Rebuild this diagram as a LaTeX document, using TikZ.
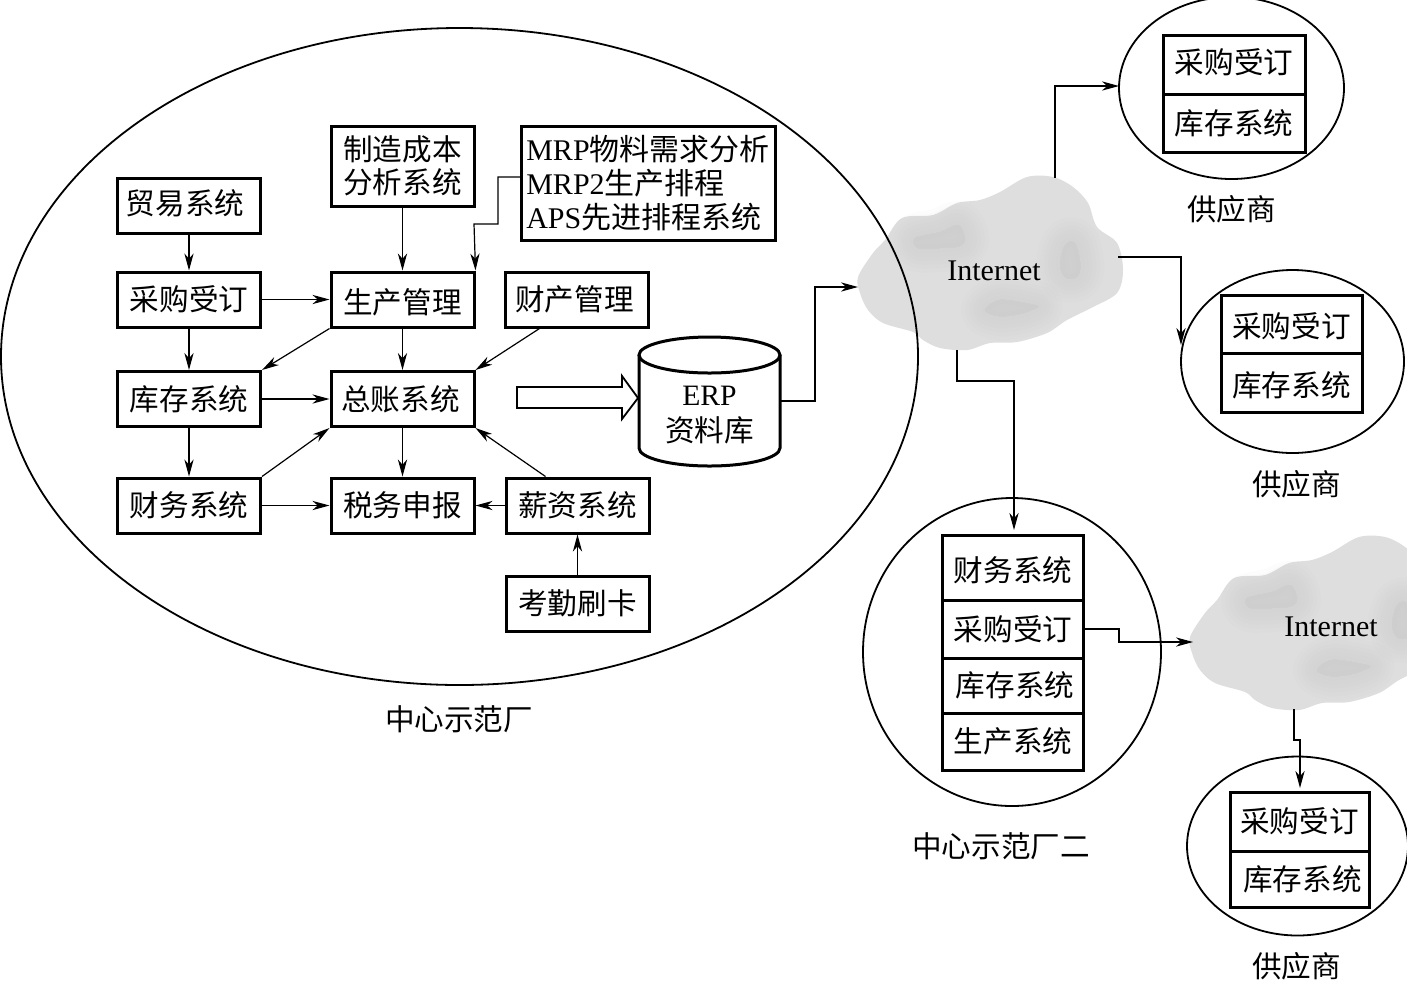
\documentclass[tikz,border=0pt]{standalone}
\usepackage{fontspec}
\setmainfont{Liberation Serif}
\newfontfamily\zhfont{Noto Sans CJK SC}
\usetikzlibrary{arrows.meta,shapes.geometric}
\newcommand{\zh}[1]{{\zhfont #1}}
% struts that nudge a label down or up inside its centred box
\newcommand{\nudgedown}{\rule{0pt}{15pt}}
\newcommand{\nudgeup}{\rule[-3.8pt]{0pt}{3.8pt}}
% a shaded patch with soft edges, built from widening translucent strokes
\newcommand{\softpatch}[1]{%
  \foreach \wd in {24pt,20pt,16pt,12pt,8pt,4pt}{%
    \path[cloudshade,line width=\wd,line join=round]
      plot[smooth cycle,tension=0.6] coordinates {#1};
  }%
}
\newcommand{\cloudbody}{%
  \fill[cloudbase] plot[smooth cycle,tension=0.55] coordinates {
    (858,277) (873,253) (885,240) (902,218) (933,215) (957,203) (980,200) (1000,192)
    (1027,177) (1053,177) (1073,187) (1088,203) (1097,227) (1117,243) (1123,270)
    (1117,293) (1093,307) (1067,320) (1047,333) (1017,342) (990,343) (967,350)
    (940,348) (923,340) (913,332) (883,323) (868,310) (860,293)};
  \softpatch{(915,238) (940,232) (958,225) (965,238) (960,246) (940,248) (918,248)}
  \softpatch{(1065,245) (1075,243) (1080,262) (1078,276) (1066,278) (1060,265)}
  \softpatch{(1000,300) (1030,304) (1038,307) (1020,314) (998,316) (985,310)}
}
\tikzset{
  every node/.style={font=\fontsize{14.8pt}{17pt}\selectfont},
  sysbox/.style={draw,line width=1.5pt,inner sep=0pt,align=center,
    minimum width=71.5pt,minimum height=27.5pt},
  cellbox/.style={sysbox,minimum width=70.5pt},
  ring/.style={draw,line width=.9pt,ellipse,inner sep=0pt},
  link/.style={line width=.6pt,-{Stealth[length=8.5pt,width=4.6pt,inset=2.6pt]}},
  cloudbase/.style={fill=black!13},
  cloudshade/.style={draw=black!30,fill=black!30,opacity=.028},
  cloudtext/.style={font=\fontsize{15pt}{17pt}\selectfont},
  caption/.style={inner sep=0pt}
}
\begin{document}
\begin{tikzpicture}[x=0.5pt,y=-0.5pt]
\useasboundingbox (0,0) rectangle (1407,981);
\fill[white] (0,0) rectangle (1407,981);

% the two clouds lie beneath the rings
\begin{scope}
  \clip (0,0) rectangle (1407,981);
  \cloudbody
  \begin{scope}[shift={(332,360)}]
    \cloudbody
  \end{scope}
\end{scope}
\node[cloudtext] (net1) at (994,271) {Internet};
\node[cloudtext] (net2) at (1331,627) {Internet};

% central plant
\node[ring,minimum width=458.5pt,minimum height=328.5pt] (plant) at (459.5,356.5) {};
\node[caption] (plantcap) at (459,719) {\zh{中心示范厂}};

\node[sysbox] (trade) at (189,205.5) {\nudgeup\zh{贸易系统}\hspace{4pt}};
\node[sysbox] (order) at (189,299.5) {\zh{采购受订}};
\node[sysbox] (stock) at (189,399) {\zh{库存系统}};
\node[sysbox] (fin)   at (189,505.5) {\zh{财务系统}};
\node[sysbox] (prod)  at (402.5,299.5) {\nudgedown\zh{生产管理}};
\node[sysbox] (gl)    at (402.5,399) {\zh{总账系统}\hspace{2pt}};
\node[sysbox] (tax)   at (402.5,505.5) {\zh{税务申报}};
\node[sysbox,minimum height=40pt] (cost) at (402.5,166) {\zh{制造成本}\\[-.6pt]\zh{分析系统}};
\node[sysbox,minimum width=127pt,minimum height=57pt,align=left,
      font=\fontsize{15pt}{17pt}\selectfont] (mrp) at (648,183)
  {MRP\zh{物料需求分析}\\MRP2\zh{生产排程}\\APS\zh{先进排程系统}\hspace{5pt}};
\node[sysbox] (asset) at (576.5,299.5) {\zh{财产管理}\hspace{2pt}};
\node[sysbox] (pay)   at (577.5,505.5) {\zh{薪资系统}};
\node[sysbox] (card)  at (577.5,603.5) {\zh{考勤刷卡}};

% database drum and the block arrow feeding it
\draw[line width=1.5pt,fill=white] (639,355) -- (639,448)
  arc[start angle=180,end angle=0,x radius=70.5,y radius=18] -- (780,355);
\draw[line width=1.5pt] (709.5,355) ellipse [x radius=70.5,y radius=18];
\node[align=center] (erp) at (709.5,415) {ERP\\[1.4pt]\zh{资料库}};
\coordinate (erpout) at (780,401);
\draw[line width=.9pt,fill=white] (517,387) -- (622,387) -- (622,376) -- (638,398)
  -- (622,419) -- (622,408) -- (517,408) -- cycle;

% flows inside the central plant
\draw[link] (trade) -- (order);
\draw[link] (order) -- (stock);
\draw[link] (stock) -- (fin);
\draw[link] (order) -- (prod);
\draw[link] (stock) -- (gl);
\draw[link] (fin) -- (tax);
\draw[link] (cost) -- (prod);
\draw[link] (prod) -- (gl);
\draw[link] (gl) -- (tax);
\draw[link] (prod.south west) -- (stock.north east);
\draw[link] ([xshift=18pt]asset.south west) -- (gl.north east);
\draw[link] (fin.north east) -- (gl.south west);
\draw[link] ([xshift=20.5pt]pay.north west) -- (gl.south east);
\draw[link] (pay) -- (tax);
\draw[link] (card) -- (pay);
\coordinate (mrpout) at (521,177);
\coordinate (mrpbendA) at (498,177);
\coordinate (mrpbendB) at (498,224);
\coordinate (mrpbendC) at (474,224);
\draw[link] (mrpout) -- (mrpbendA) -- (mrpbendB) -- (mrpbendC) -- (prod.north east);

% supplier one
\node[ring,minimum width=112.5pt,minimum height=91pt] (supA) at (1231.5,88) {};
\node[cellbox,minimum width=71pt,minimum height=29.5pt] (supAo) at (1234,64.5) {\nudgeup\zh{采购受订}};
\node[cellbox,minimum width=71pt,minimum height=29pt] (supAs) at (1234,123) {\zh{库存系统}};
\node[caption] (supAcap) at (1231.5,209) {\zh{供应商}};

% supplier two
\node[ring,minimum width=111.5pt,minimum height=91.5pt] (supB) at (1292.5,361.5) {};
\node[cellbox,minimum height=29pt] (supBo) at (1291.5,324) {\nudgedown\zh{采购受订}};
\node[cellbox,minimum height=29.5pt] (supBs) at (1291.5,382.5) {\nudgedown\zh{库存系统}};
\node[caption] (supBcap) at (1296.5,484) {\zh{供应商}};

% second central plant
\node[ring,minimum width=149pt,minimum height=154pt] (plantB) at (1012,652) {};
\node[cellbox,minimum height=32.5pt] (pbFin) at (1013,567.5) {\nudgedown\zh{财务系统}};
\node[cellbox,minimum height=29pt] (pbOrd) at (1013,629) {\zh{采购受订}};
\node[cellbox,minimum height=27.5pt] (pbSto) at (1013,685.5) {\hspace{2pt}\zh{库存系统}};
\node[cellbox,minimum height=28.5pt] (pbPro) at (1013,741.5) {\zh{生产系统}};
\node[caption] (plantBcap) at (1001,846) {\zh{中心示范厂二}};

% supplier three
\node[ring,minimum width=110.5pt,minimum height=89.5pt] (supC) at (1297.5,846) {};
\node[cellbox,minimum width=69.5pt,minimum height=29.5pt] (supCo) at (1299.5,821.5) {\zh{采购受订}};
\node[cellbox,minimum width=69.5pt,minimum height=28pt] (supCs) at (1299.5,879) {\hspace{3pt}\zh{库存系统}};
\node[caption] (supCcap) at (1296.5,966) {\zh{供应商}};

% links over the network
\coordinate (n1in) at (858,287);
\coordinate (n1top) at (1055,178);
\coordinate (n1right) at (1118,257);
\coordinate (n1bottom) at (957,350);
\coordinate (supAin) at (1119,86);
\coordinate (supBin) at (1181,345);
\coordinate (pbIn) at (1014,530);
\coordinate (n2in) at (1193,642);
\coordinate (n2bottom) at (1294,709);
\coordinate (supCin) at (1300,788);
\draw[link] (erpout) -- ++(35,0) |- (n1in);
\draw[link] (n1top) |- (supAin);
\draw[link] (n1right) -| (supBin);
\draw[link] (n1bottom) -- ++(0,31) -| (pbIn);
\draw[link] (pbOrd.east) -- ++(34,0) |- (n2in);
\draw[link] (n2bottom) -- ++(0,31) -| (supCin);
\end{tikzpicture}
\end{document}
